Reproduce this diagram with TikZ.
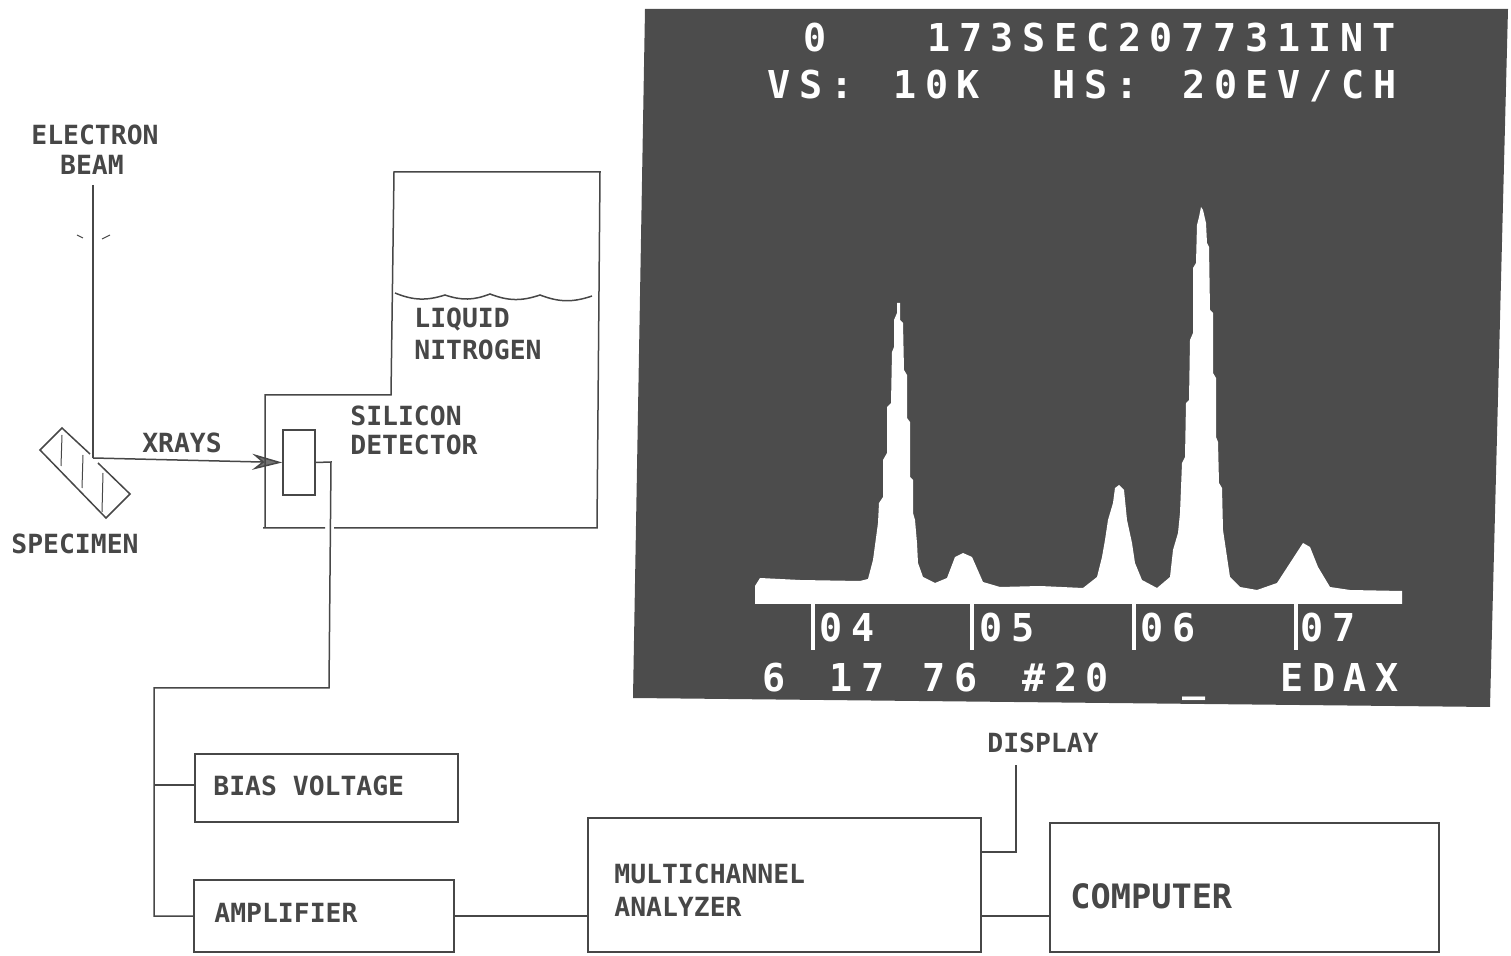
\documentclass[tikz,border=0pt]{standalone}
\usepackage{fontspec}
\setmonofont{DejaVu Sans Mono}
\newfontfamily\crtfont{DejaVu Sans Mono}[LetterSpace=22.6]
\usetikzlibrary{positioning, fit, arrows.meta}

\begin{document}
\begin{tikzpicture}[
  x=0.5pt, y=-0.5pt,
  font=\ttfamily\bfseries\fontsize{13.2}{15}\selectfont,
  wire/.style={draw=black!72, line width=0.75pt},
  block/.style={rectangle, draw=black!72, line width=0.75pt, inner sep=0pt},
  lbl/.style={text=black!72, inner sep=0pt},
  biglbl/.style={text=black!72, inner sep=0pt, font=\ttfamily\bfseries\fontsize{16.8}{19}\selectfont},
  crt/.style={text=white, inner sep=0pt, anchor=base west, font=\crtfont\bfseries\fontsize{19.2}{22}\selectfont},
  tickmark/.style={draw=white, line width=2pt},
]
\useasboundingbox (0,0) rectangle (1511,956);

\fill[black!70] (645,9) -- (1508,9) -- (1490,707) -- (633,698) -- cycle;
\fill[white] (755,604) -- (755,586) -- (760,578) -- (800,580) -- (860,581) -- (868,579)
  -- (873,560) -- (878,523) -- (879,503) -- (883,497) -- (883,460) -- (887,453) -- (887,407)
  -- (891,403) -- (892,352) -- (894,347) -- (894,320) -- (897,313) -- (897,303) -- (900,303)
  -- (900,320) -- (903,323) -- (904,370) -- (907,375) -- (907,418) -- (910,422) -- (910,477)
  -- (913,480) -- (913,513) -- (915,520) -- (917,543) -- (918,563) -- (923,577) -- (935,583)
  -- (947,578) -- (955,557) -- (963,553) -- (972,557) -- (983,582) -- (1000,587) -- (1040,586)
  -- (1083,588) -- (1097,577) -- (1102,557) -- (1105,540) -- (1108,520) -- (1113,503) -- (1115,488)
  -- (1119,485) -- (1124,490) -- (1127,520) -- (1132,543) -- (1135,563) -- (1142,580) -- (1157,588)
  -- (1170,577) -- (1173,550) -- (1178,533) -- (1180,513) -- (1182,463) -- (1185,457) -- (1186,403)
  -- (1189,400) -- (1190,340) -- (1193,333) -- (1193,268) -- (1196,263) -- (1197,225) -- (1199,217)
  -- (1201,207) -- (1203,210) -- (1206,223) -- (1207,243) -- (1209,247) -- (1210,310) -- (1213,313)
  -- (1213,373) -- (1216,378) -- (1216,437) -- (1218,442) -- (1219,483) -- (1222,488) -- (1223,530)
  -- (1227,557) -- (1230,577) -- (1240,587) -- (1257,590) -- (1277,583) -- (1290,563) -- (1303,543)
  -- (1310,547) -- (1318,567) -- (1330,587) -- (1350,590) -- (1402,591) -- (1402,604) -- cycle;
\draw[tickmark] (813,604) -- (813,650);
\draw[tickmark] (972,604) -- (972,650);
\draw[tickmark] (1134,604) -- (1134,650);
\draw[tickmark] (1296,604) -- (1296,650);

\node[crt] (zerocount) at (803,52) {0};
\node[crt] (timeline) at (927,52) {173SEC207731INT};
\node[crt] (vslabel) at (767,99) {VS:};
\node[crt] (vsvalue) at (893,99) {10K};
\node[crt] (hslabel) at (1052,99) {HS:};
\node[crt] (hsvalue) at (1182,99) {20EV/CH};
\node[crt] (chfour) at (819,642) {04};
\node[crt] (chfive) at (979,642) {05};
\node[crt] (chsix) at (1140,642) {06};
\node[crt] (chseven) at (1300,642) {07};
\node[crt] (month) at (762,692) {6};
\node[crt] (day) at (829,692) {17};
\node[crt] (year) at (922,692) {76};
\node[crt] (runno) at (1022,692) {\#20};
\node[crt] (cursor) at (1182,692) {\_};
\node[crt] (edax) at (1280,692) {EDAX};

\node[lbl] (electron) at (95,135) {ELECTRON};
\node[lbl] (beam) at (92,165) {BEAM};
\node[lbl] (xrays) at (182,443) {XRAYS};
\node[lbl] (specimen) at (75,544) {SPECIMEN};
\node[lbl, anchor=west] (liquid) at (414,320) {LIQUID};
\node[lbl, anchor=west] (nitrogen) at (414,350) {NITROGEN};
\node[lbl, anchor=west] (silicon) at (350,416) {SILICON};
\node[lbl, anchor=west] (detlabel) at (350,445) {DETECTOR};
\node[lbl] (display) at (1043,743) {DISPLAY};

\node[block, fit={(283,430) (315,495)}] (detector) {};
\node[block, fit={(195,754) (458,822)}] (bias) {};
\node[block, fit={(194,880) (454,952)}] (amplifier) {};
\node[block, fit={(588,818) (981,952)}] (mca) {};
\node[block, fit={(1050,823) (1439,952)}] (computer) {};
\node[lbl, anchor=west] (biaslabel) at (213,786) {BIAS VOLTAGE};
\node[lbl, anchor=west] (amplabel) at (214,913) {AMPLIFIER};
\node[lbl, anchor=west] (mcaone) at (614,874) {MULTICHANNEL};
\node[lbl, anchor=west] (mcatwo) at (614,907) {ANALYZER};
\node[biglbl, anchor=west] (complabel) at (1070,896) {COMPUTER};

\coordinate (beamtop) at (93,185);
\coordinate (beamend) at (93,458);
\coordinate (leadtop) at (331,462);
\coordinate (leadend) at (329,688);
\coordinate (busend) at (154,688);
\coordinate (busbias) at (154,785);
\coordinate (dispend) at (1016,765);

\draw[wire] (beamtop) -- (beamend);
\draw[wire, line width=0.5pt] (77,235) -- (83,238) (102,239) -- (110,235);
\draw[wire, -{Stealth[length=15pt, width=8pt, fill=black!55]}] (beamend) -- (detector.west);

\draw[wire] (90,454) -- (62,428) -- (40,450) -- (106,518) -- (130,494) -- (98,463);
\draw[wire, line width=0.5pt] (62,435) -- (61,466) (83,455) -- (82,488) (103,473) -- (102,512);

\draw[wire] (325,528) -- (263,528) (265,528) -- (265,395) -- (391,395) -- (394,172) -- (600,172) -- (597,528) -- (334,528);
\draw[wire] (395,293) to[bend right=20] (445,295) to[bend right=20] (490,294) to[bend right=20] (540,295) to[bend right=20] (592,296);

\draw[wire] (detector.east) -- (leadtop) -- (leadend) -- (busend) -- (busend |- amplifier.west) -- (amplifier.west);
\draw[wire] (busbias) -- (bias.west |- busbias);
\draw[wire] (amplifier.east) -- (mca.west |- amplifier.east);
\draw[wire] (mca.east |- amplifier.east) -- (computer.west |- amplifier.east);
\draw[wire] (mca.east |- 0,852) -- (dispend |- 0,852) -- (dispend);
\end{tikzpicture}
\end{document}
